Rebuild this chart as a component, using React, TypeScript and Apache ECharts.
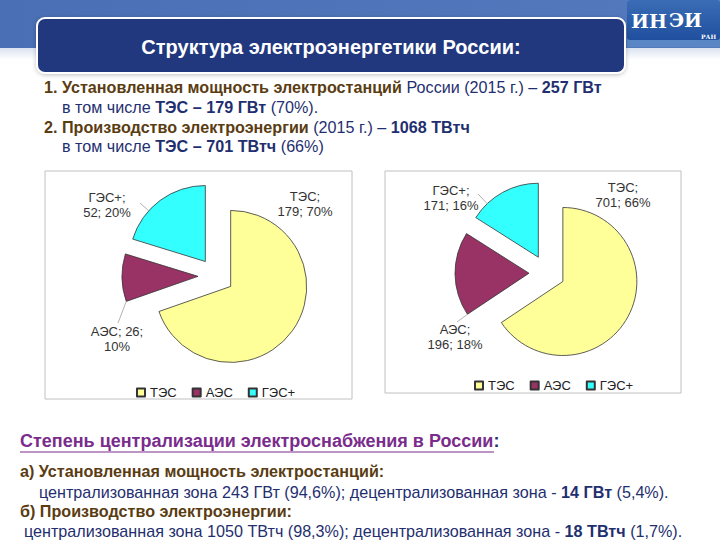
import React, { useEffect, useRef } from "react";
import * as echarts from "echarts";

const categories = ["ТЭС", "АЭС", "ГЭС+"];
const capacityGW = [179, 26, 52];
const generationTWh = [701, 196, 171];
const sliceColors = ["#FFFF99", "#993366", "#33FFFF"];
// label line-break style per slice: 1 = "name;\nvalue; pct", 2 = "name; value;\npct"
const leftLabelBreaks = [1, 2, 1];
const rightLabelBreaks = [1, 1, 1];
const leftLabelPos = [[305, 204], [117, 339], [107, 205]];
const rightLabelPos = [[623, 195], [455, 337], [451, 198]];
const leftLineAnchors = [null, [118, 323], [140, 203]];
const rightLineAnchors = [null, [457, 322], [478, 194]];

const titleText = "Структура электроэнергетики России:";
const headLines = [
  "{b|1. Установленная мощность электростанций} {n|России (2015 г.) –} {nb|257 ГВт}",
  "{n|в том числе} {nb|ТЭС – 179 ГВт} {n|(70%).}",
  "{b|2. Производство электроэнергии} {n|(2015 г.) –} {nb|1068 ТВтч}",
  "{n|в том числе} {nb|ТЭС – 701 ТВтч} {n|(66%)}",
];
const bottomHeading = "Степень централизации электроснабжения в России";
const bottomLines = [
  "{b|а) Установленная мощность электростанций:}",
  "{n|централизованная зона 243 ГВт (94,6%); децентрализованная зона -} {nb|14 ГВт} {n|(5,4%).}",
  "{b|б) Производство электроэнергии:}",
  "{n|централизованная зона 1050 ТВтч (98,3%); децентрализованная зона -} {nb|18 ТВтч} {n|(1,7%).}",
];

const BROWN = "#5a3c12";
const NAVY = "#1f2f6f";
const PURPLE = "#7a2c8c";
const FONT = "'Liberation Sans', Arial, sans-serif";
const LFONT = "'Liberation Sans', Arial, sans-serif";
const EXPLODE = 18;

function richStyles(size: number) {
  return {
    b: { fill: BROWN, fontWeight: "bold", fontSize: size, fontFamily: FONT },
    n: { fill: NAVY, fontWeight: "normal", fontSize: size, fontFamily: FONT },
    nb: { fill: NAVY, fontWeight: "bold", fontSize: size, fontFamily: FONT },
  };
}

function textLine(text: string, x: number, y: number, size: number) {
  return {
    type: "text",
    x,
    y,
    scaleX: 0.95,
    style: { text, verticalAlign: "middle", rich: richStyles(size), fontSize: size, fontFamily: FONT },
    z: 10,
  };
}

function makePie(values: number[], center: number[], radius: number) {
  return {
    type: "pie",
    center,
    radius,
    startAngle: 90,
    clockwise: true,
    selectedMode: "multiple",
    selectedOffset: EXPLODE,
    avoidLabelOverlap: false,
    silent: true,
    itemStyle: { borderColor: "#333", borderWidth: 0.8 },
    select: { itemStyle: { borderColor: "#333", borderWidth: 0.8 } },
    emphasis: { disabled: true },
    label: { show: false },
    labelLine: { show: false },
    data: categories.map((name, i) => ({
      name,
      value: values[i],
      selected: true,
      itemStyle: { color: sliceColors[i] },
    })),
  };
}

// Pie slice labels ("name; value; pct%") and leader lines, derived from the data and pie geometry
function pieLabels(
  values: number[],
  center: number[],
  radius: number,
  breaks: number[],
  pos: number[][],
  anchors: (number[] | null)[]
) {
  const total = values.reduce((a, b) => a + b, 0);
  const els: any[] = [];
  let acc = 0;
  values.forEach((v, i) => {
    const a0 = (acc / total) * 360;
    acc += v;
    const a1 = (acc / total) * 360;
    const pct = Math.round((v / total) * 100);
    const text =
      breaks[i] === 2
        ? `${categories[i]}; ${v};\n${pct}%`
        : `${categories[i]};\n${v}; ${pct}%`;
    els.push({
      type: "text",
      x: pos[i][0],
      y: pos[i][1],
      style: {
        text,
        fill: "#333",
        fontSize: 13,
        lineHeight: 15,
        fontFamily: LFONT,
        align: "center",
        verticalAlign: "middle",
      },
      z: 20,
    });
    const anchor = anchors[i];
    if (anchor) {
      const mid = ((a0 + a1) / 2) * (Math.PI / 180);
      const ecx = center[0] + EXPLODE * Math.sin(mid);
      const ecy = center[1] - EXPLODE * Math.cos(mid);
      let th = (Math.atan2(anchor[0] - ecx, -(anchor[1] - ecy)) * 180) / Math.PI;
      if (th < 0) th += 360;
      th = Math.min(Math.max(th, a0), a1);
      const t = (th * Math.PI) / 180;
      els.push({
        type: "line",
        shape: {
          x1: anchor[0],
          y1: anchor[1],
          x2: ecx + radius * Math.sin(t),
          y2: ecy - radius * Math.cos(t),
        },
        style: { stroke: "#a0a0a0", lineWidth: 0.8 },
        z: 20,
      });
    }
  });
  return els;
}

export default function App() {
  const ref = useRef<HTMLDivElement>(null);
  useEffect(() => {
    document.body.style.margin = "0";
    const chart = echarts.init(ref.current!, undefined, { renderer: "svg" });
    const leftCenter = [216, 276];
    const rightCenter = [547, 273];
    chart.setOption({
      animation: false,
      backgroundColor: "#ffffff",
      legend: [
        {
          data: categories,
          left: 131,
          top: 381,
          icon: "rect",
          itemWidth: 8,
          itemHeight: 8,
          itemGap: 15,
          selectedMode: false,
          textStyle: { fontSize: 13, color: "#222", fontFamily: LFONT },
        },
        {
          data: categories,
          left: 469,
          top: 374,
          icon: "rect",
          itemWidth: 8,
          itemHeight: 8,
          itemGap: 15,
          selectedMode: false,
          textStyle: { fontSize: 13, color: "#222", fontFamily: LFONT },
        },
      ],
      series: [makePie(capacityGW, leftCenter, 76), makePie(generationTWh, rightCenter, 74)],
      graphic: [
        {
          type: "rect",
          shape: { x: 0, y: 0, width: 720, height: 48 },
          style: {
            fill: new echarts.graphic.LinearGradient(0, 0, 1, 0, [
              { offset: 0, color: "#4a6fb4" },
              { offset: 1, color: "#5479bd" },
            ]),
          },
          z: 1,
        },
        {
          type: "rect",
          shape: { x: 0, y: 48, width: 720, height: 12 },
          style: {
            fill: new echarts.graphic.LinearGradient(0, 0, 0, 1, [
              { offset: 0, color: "#dbe3f1" },
              { offset: 1, color: "#ffffff" },
            ]),
          },
          z: 1,
        },
        {
          type: "rect",
          shape: { x: 627, y: 0, width: 93, height: 47 },
          style: { fill: "#5a86c6" },
          z: 2,
        },
        {
          type: "rect",
          shape: { x: 627, y: 0, width: 93, height: 40, r: 3 },
          style: {
            fill: new echarts.graphic.LinearGradient(0, 0, 0, 1, [
              { offset: 0, color: "#3b6db6" },
              { offset: 1, color: "#1f4f9e" },
            ]),
          },
          z: 3,
        },
        {
          type: "text",
          x: 631,
          y: 21,
          style: { text: "ИН", fill: "#fff", fontSize: 19, fontWeight: "bold", fontFamily: "'DejaVu Serif', serif", verticalAlign: "middle" },
          z: 4,
        },
        {
          type: "text",
          x: 669,
          y: 20,
          style: { text: "ЭИ", fill: "#fff", fontSize: 19, fontWeight: "bold", fontFamily: "'DejaVu Serif', serif", verticalAlign: "middle" },
          z: 4,
        },
        {
          type: "text",
          x: 701,
          y: 36,
          style: { text: "РАН", fill: "#fff", fontSize: 6, fontWeight: "bold", fontFamily: "'DejaVu Serif', serif", verticalAlign: "middle" },
          z: 4,
        },
        {
          type: "rect",
          shape: { x: 37, y: 18, width: 588, height: 55, r: 8 },
          style: { fill: "#24387e", stroke: "#ffffff", lineWidth: 2, shadowBlur: 4, shadowColor: "rgba(0,0,0,0.25)", shadowOffsetY: 1 },
          z: 5,
        },
        {
          type: "text",
          x: 331,
          y: 47,
          style: {
            text: titleText,
            fill: "#ffffff",
            fontSize: 20,
            fontWeight: "bold",
            fontFamily: FONT,
            align: "center",
            verticalAlign: "middle",
          },
          z: 6,
        },
        textLine(headLines[0], 44, 87, 17),
        textLine(headLines[1], 62, 107, 17),
        textLine(headLines[2], 44, 127, 17),
        textLine(headLines[3], 62, 146, 17),
        {
          type: "rect",
          shape: { x: 45, y: 171, width: 307, height: 228 },
          style: { fill: "none", stroke: "#c0c0c0", lineWidth: 1 },
          z: 0,
        },
        {
          type: "rect",
          shape: { x: 385, y: 171, width: 296, height: 222 },
          style: { fill: "none", stroke: "#c0c0c0", lineWidth: 1 },
          z: 0,
        },
        ...pieLabels(capacityGW, leftCenter, 76, leftLabelBreaks, leftLabelPos, leftLineAnchors),
        ...pieLabels(generationTWh, rightCenter, 74, rightLabelBreaks, rightLabelPos, rightLineAnchors),
        {
          type: "text",
          x: 20,
          y: 441,
          style: {
            text: "{p|" + bottomHeading + "}{c|:}",
            verticalAlign: "middle",
            rich: {
              p: { fill: PURPLE, fontWeight: "bold", fontSize: 18, fontFamily: FONT },
              c: { fill: NAVY, fontWeight: "bold", fontSize: 18, fontFamily: FONT },
            },
          },
          z: 10,
        },
        {
          type: "line",
          shape: { x1: 20, y1: 452, x2: 494, y2: 452 },
          style: { stroke: PURPLE, lineWidth: 1.2 },
          z: 10,
        },
        textLine(bottomLines[0], 20, 471, 17),
        textLine(bottomLines[1], 39, 492, 17),
        textLine(bottomLines[2], 20, 511, 17),
        textLine(bottomLines[3], 24, 531, 17),
      ],
    });
    return () => chart.dispose();
  }, []);
  return <div ref={ref} style={{ position: "absolute", left: 0, top: 0, width: 720, height: 540 }} />;
}
